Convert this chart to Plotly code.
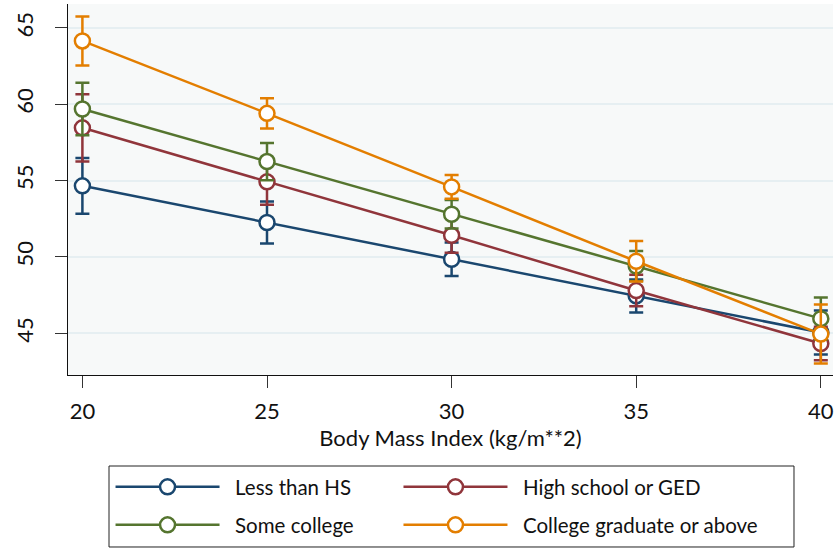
import plotly.graph_objects as go

# Predicted values with 95% confidence intervals by BMI and education level
bmi = [20, 25, 30, 35, 40]

groups = ["Less than HS", "High school or GED", "Some college", "College graduate or above"]
colors = ["#1a476f", "#90353b", "#55752f", "#e37e00"]
legend_ids = ["legend", "legend2", "legend3", "legend4"]

less_hs_mean = [54.66, 52.26, 49.85, 47.45, 45.05]
less_hs_err = [1.83, 1.37, 1.10, 1.08, 1.44]

high_school_mean = [58.46, 54.92, 51.42, 47.80, 44.33]
high_school_err = [2.20, 1.50, 1.15, 1.03, 1.10]

some_college_mean = [59.69, 56.25, 52.80, 49.41, 45.96]
some_college_err = [1.72, 1.22, 0.93, 0.99, 1.38]

college_grad_mean = [64.15, 59.41, 54.59, 49.72, 44.95]
college_grad_err = [1.60, 0.99, 0.78, 1.32, 1.93]

means = [less_hs_mean, high_school_mean, some_college_mean, college_grad_mean]
errs = [less_hs_err, high_school_err, some_college_err, college_grad_err]

y_ticks = [45, 50, 55, 60, 65]

FONT = "Lato"
FS = 22
LEGEND_FS = 20.5

fig = go.Figure()
for name, color, m, e, lg in zip(groups, colors, means, errs, legend_ids):
    fig.add_trace(go.Scatter(
        x=bmi, y=m, name="\u00a0\u00a0" + name, mode="lines+markers",
        legend=lg,
        line=dict(color=color, width=2.5),
        marker=dict(symbol="circle", size=15, color="white",
                    line=dict(color=color, width=2.5)),
        error_y=dict(type="data", array=e, visible=True, color=color,
                     thickness=2.5, width=7),
    ))

# Two-by-two legend grid: one single-entry legend per group
legend_x = [0.0556, 0.432, 0.0556, 0.432]
legend_y = [-0.3019, -0.3019, -0.4043, -0.4043]

legends = {}
for lg, lx, ly in zip(legend_ids, legend_x, legend_y):
    legends[lg] = dict(
        x=lx, xanchor="left", y=ly, yanchor="middle",
        bgcolor="rgba(0,0,0,0)", borderwidth=0,
        itemwidth=104,
        font=dict(family=FONT, size=LEGEND_FS, color="#111111"),
    )

fig.update_layout(
    width=838, height=550,
    margin=dict(l=68, r=5, t=4, b=175),
    paper_bgcolor="white",
    plot_bgcolor="#f7f9f9",
    font=dict(family=FONT, size=FS, color="#111111"),
    showlegend=True,
    shapes=[dict(
        type="rect", xref="paper", yref="paper",
        x0=0.0536, x1=0.949, y0=-0.4636, y1=-0.2453,
        line=dict(color="#222222", width=1), fillcolor="white", layer="below",
    )],
    **legends,
)

fig.update_xaxes(
    range=[19.61, 40.33],
    tickvals=bmi,
    showgrid=False, zeroline=False,
    showline=True, linecolor="#111111", linewidth=1.2,
    ticks="outside", ticklen=12, tickwidth=1.2, tickcolor="#333333",
    ticklabelstandoff=4,
    tickfont=dict(family=FONT, size=FS),
    title=dict(text="Body Mass Index (kg/m**2)", font=dict(family=FONT, size=FS), standoff=8),
)

fig.update_yaxes(
    range=[42.27, 66.57],
    tickvals=y_ticks,
    tickangle=-90,
    showgrid=True, gridcolor="#e6eff2", gridwidth=1.5,
    zeroline=False,
    showline=True, linecolor="#111111", linewidth=1.2,
    ticks="outside", ticklen=12, tickwidth=1.2, tickcolor="#333333",
    ticklabelstandoff=13,
    tickfont=dict(family=FONT, size=FS),
)

fig.write_html("out.html")
